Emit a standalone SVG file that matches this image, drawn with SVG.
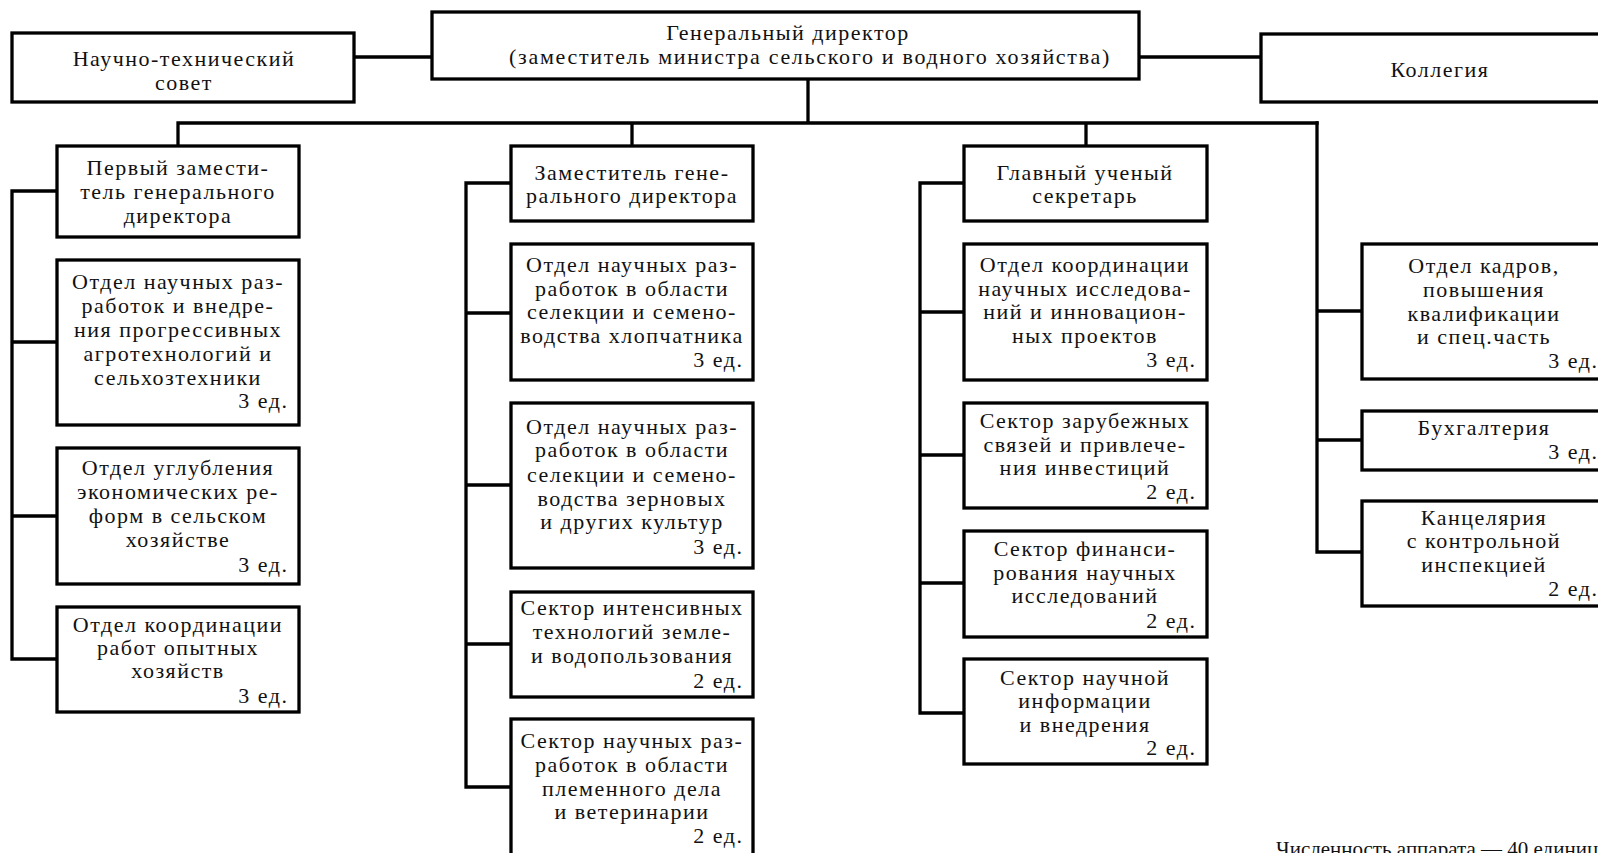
<svg xmlns="http://www.w3.org/2000/svg" width="1598" height="853" viewBox="0 0 1598 853">
<style>
.bx{fill:#fff;stroke:#000;stroke-width:3.3}
.ln{fill:none;stroke:#000;stroke-width:3.3;stroke-linecap:square}
text{font-family:"Liberation Serif","DejaVu Serif",serif;font-size:22px;letter-spacing:1.5px;fill:#111;text-anchor:middle}
text.r{text-anchor:end}
text.big{font-size:21px;letter-spacing:0px;text-anchor:start}
</style>
<rect width="1598" height="853" fill="#fff"/>
<g id="connectors">
<path class="ln" d="M354 57H432M1139 57H1261M808 79V123M178 123H1317M178 123V146M632 123V146M1086 123V146"/>
<path class="ln" d="M12 191V659M12 191H57M12 342H57M12 516H57M12 659H57"/>
<path class="ln" d="M466 183V787M466 183H511M466 313H511M466 485H511M466 644H511M466 787H511"/>
<path class="ln" d="M920 183V713M920 183H964M920 312H964M920 455H964M920 583H964M920 713H964"/>
<path class="ln" d="M1317 123V552M1317 311H1362M1317 440H1362M1317 552H1362"/>
</g>
<g id="n-sovet"><rect class="bx" x="12" y="33" width="342" height="69"/><text x="184" y="66">Научно-технический</text><text x="184" y="90">совет</text></g>
<g id="n-gendir"><rect class="bx" x="432" y="12" width="707" height="67"/><text x="788" y="40">Генеральный директор</text><text x="810" y="64" style="letter-spacing:1.7px">(заместитель министра сельского и водного хозяйства)</text></g>
<g id="n-kollegia"><rect class="bx" x="1261" y="34" width="360" height="68"/><text x="1440" y="77">Коллегия</text></g>

<g id="n-perv"><rect class="bx" x="57" y="146" width="242" height="91"/><text x="178" y="175">Первый замести-</text><text x="178" y="199">тель генерального</text><text x="178" y="223">директора</text></g>
<g id="n-agro"><rect class="bx" x="57" y="260" width="242" height="165"/><text x="178" y="289">Отдел научных раз-</text><text x="178" y="313">работок и внедре-</text><text x="178" y="337">ния прогрессивных</text><text x="178" y="361">агротехнологий и</text><text x="178" y="385">сельхозтехники</text><text class="r" x="288.5" y="408">3 ед.</text></g>
<g id="n-reform"><rect class="bx" x="57" y="448" width="242" height="136"/><text x="178" y="475">Отдел углубления</text><text x="178" y="499">экономических ре-</text><text x="178" y="523">форм в сельском</text><text x="178" y="547">хозяйстве</text><text class="r" x="288.5" y="572">3 ед.</text></g>
<g id="n-opyt"><rect class="bx" x="57" y="607" width="242" height="105"/><text x="178" y="632">Отдел координации</text><text x="178" y="655">работ опытных</text><text x="178" y="678">хозяйств</text><text class="r" x="288.5" y="703">3 ед.</text></g>

<g id="n-zam"><rect class="bx" x="511" y="146" width="242" height="75"/><text x="632" y="180">Заместитель гене-</text><text x="632" y="203">рального директора</text></g>
<g id="n-hlop"><rect class="bx" x="511" y="244" width="242" height="136"/><text x="632" y="272">Отдел научных раз-</text><text x="632" y="296">работок в области</text><text x="632" y="319">селекции и семено-</text><text x="632" y="343">водства хлопчатника</text><text class="r" x="743.5" y="367">3 ед.</text></g>
<g id="n-zern"><rect class="bx" x="511" y="403" width="242" height="165"/><text x="632" y="434">Отдел научных раз-</text><text x="632" y="457">работок в области</text><text x="632" y="482">селекции и семено-</text><text x="632" y="506">водства зерновых</text><text x="632" y="529">и других культур</text><text class="r" x="743.5" y="554">3 ед.</text></g>
<g id="n-intens"><rect class="bx" x="511" y="592" width="242" height="105"/><text x="632" y="615">Сектор интенсивных</text><text x="632" y="639">технологий земле-</text><text x="632" y="663">и водопользования</text><text class="r" x="743.5" y="688">2 ед.</text></g>
<g id="n-plem"><rect class="bx" x="511" y="719" width="242" height="150"/><text x="632" y="748">Сектор научных раз-</text><text x="632" y="772">работок в области</text><text x="632" y="796">племенного дела</text><text x="632" y="819">и ветеринарии</text><text class="r" x="743.5" y="843">2 ед.</text></g>

<g id="n-glav"><rect class="bx" x="964" y="146" width="243" height="75"/><text x="1085" y="180">Главный ученый</text><text x="1085" y="203">секретарь</text></g>
<g id="n-koord"><rect class="bx" x="964" y="244" width="243" height="136"/><text x="1085" y="272">Отдел координации</text><text x="1085" y="296">научных исследова-</text><text x="1085" y="319">ний и инновацион-</text><text x="1085" y="343">ных проектов</text><text class="r" x="1196.5" y="367">3 ед.</text></g>
<g id="n-zarub"><rect class="bx" x="964" y="403" width="243" height="105"/><text x="1085" y="428">Сектор зарубежных</text><text x="1085" y="452">связей и привлече-</text><text x="1085" y="475">ния инвестиций</text><text class="r" x="1196.5" y="499">2 ед.</text></g>
<g id="n-fin"><rect class="bx" x="964" y="531" width="243" height="106"/><text x="1085" y="556">Сектор финанси-</text><text x="1085" y="580">рования научных</text><text x="1085" y="603">исследований</text><text class="r" x="1196.5" y="628">2 ед.</text></g>
<g id="n-info"><rect class="bx" x="964" y="659" width="243" height="105"/><text x="1085" y="685">Сектор научной</text><text x="1085" y="708">информации</text><text x="1085" y="732">и внедрения</text><text class="r" x="1196.5" y="755">2 ед.</text></g>

<g id="n-kadry"><rect class="bx" x="1362" y="244" width="250" height="135"/><text x="1484" y="273">Отдел кадров,</text><text x="1484" y="297">повышения</text><text x="1484" y="321">квалификации</text><text x="1484" y="344">и спец.часть</text><text class="r" x="1598.5" y="368">3 ед.</text></g>
<g id="n-buh"><rect class="bx" x="1362" y="411" width="250" height="59"/><text x="1484" y="435">Бухгалтерия</text><text class="r" x="1598.5" y="459">3 ед.</text></g>
<g id="n-kanc"><rect class="bx" x="1362" y="501" width="250" height="105"/><text x="1484" y="525">Канцелярия</text><text x="1484" y="548">с контрольной</text><text x="1484" y="572">инспекцией</text><text class="r" x="1598.5" y="596">2 ед.</text></g>

<text class="big" x="1276" y="856">Численность аппарата — 40 единиц</text>
</svg>
